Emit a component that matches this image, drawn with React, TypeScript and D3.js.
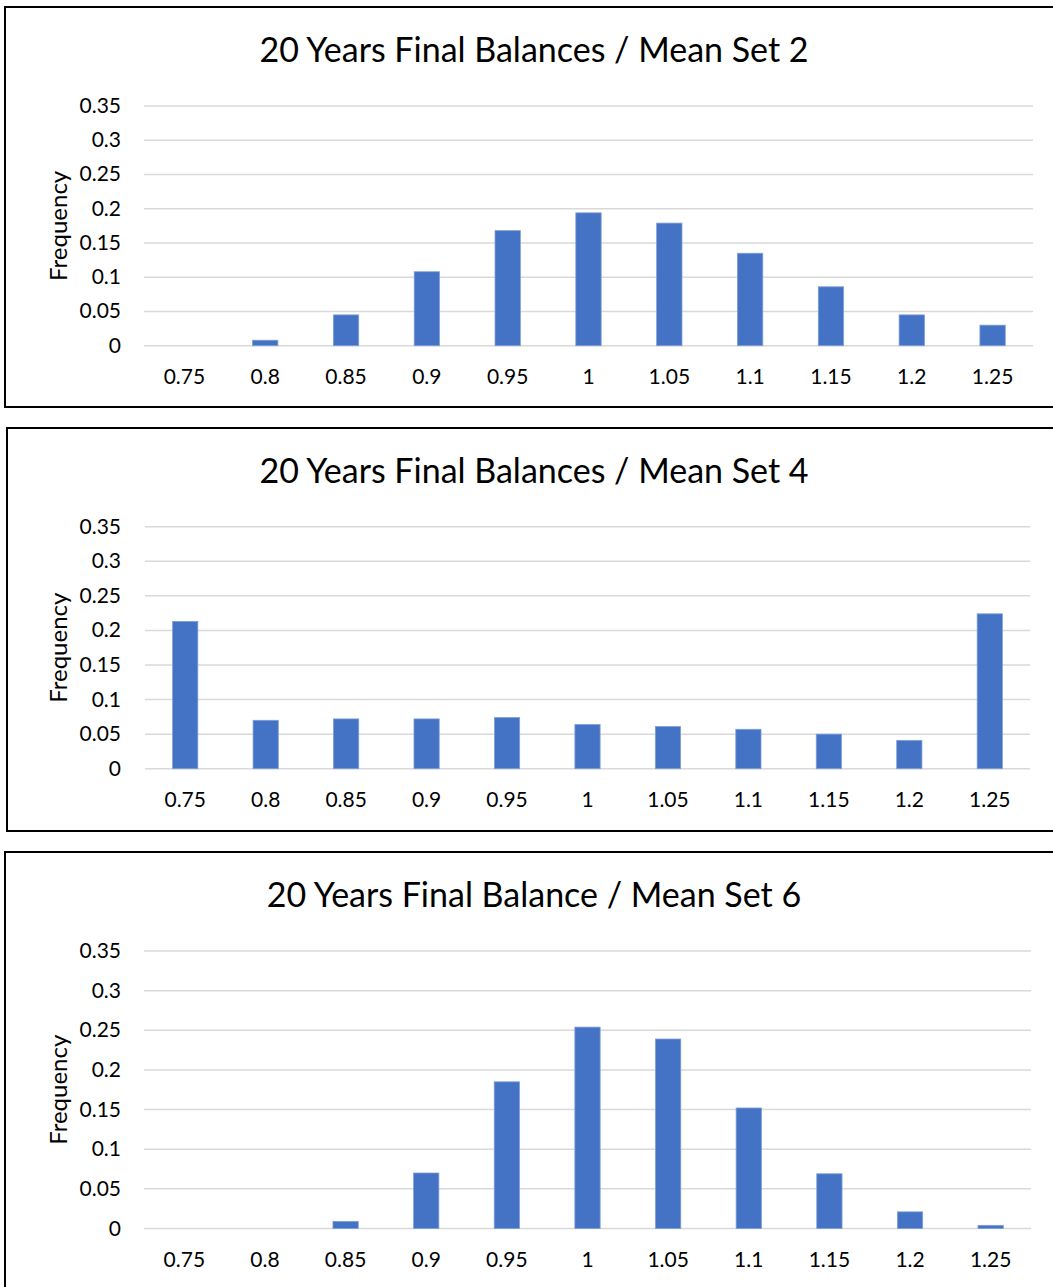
import React from "react";
import * as d3 from "d3";

const categories = ["0.75", "0.8", "0.85", "0.9", "0.95", "1", "1.05", "1.1", "1.15", "1.2", "1.25"];
const set2Values = [0, 0.008, 0.045, 0.108, 0.168, 0.194, 0.179, 0.135, 0.086, 0.045, 0.030];
const set4Values = [0.213, 0.070, 0.072, 0.072, 0.074, 0.064, 0.061, 0.057, 0.050, 0.041, 0.224];
const set6Values = [0, 0, 0.009, 0.070, 0.185, 0.254, 0.239, 0.152, 0.069, 0.021, 0.004];
const yTicks = [0, 0.05, 0.1, 0.15, 0.2, 0.25, 0.3, 0.35];
const titles = [
  "20 Years Final Balances / Mean Set 2",
  "20 Years Final Balances / Mean Set 4",
  "20 Years Final Balance / Mean Set 6",
];
const yAxisTitle = "Frequency";

const FONT = "Lato, 'Open Sans', sans-serif";

const panels = [
  { values: set2Values, title: titles[0], boxX: 5, boxY: 7, boxH: 400, left: 144, right: 1033, top: 106, bottom: 345.7 },
  { values: set4Values, title: titles[1], boxX: 7, boxY: 428, boxH: 403, left: 145, right: 1030, top: 526.7, bottom: 768.7 },
  { values: set6Values, title: titles[2], boxX: 5, boxY: 852, boxH: 460, left: 144, right: 1031, top: 951, bottom: 1228.5 },
];

function Panel({ p }: { p: typeof panels[number] }) {
  const x = d3.scaleBand<string>().domain(categories).range([p.left, p.right]).paddingInner(0).paddingOuter(0);
  const y = d3.scaleLinear().domain([0, 0.35]).range([p.bottom, p.top]);
  const bw = x.bandwidth() / 3.19;
  const fmt = (v: number) => (v === 0 ? "0" : String(+v.toFixed(2)));
  return (
    <g>
      <rect x={p.boxX} y={p.boxY} width={1100} height={p.boxH} fill="#fff" stroke="#000" strokeWidth={2} />
      <text x={534} y={p.boxY + 41} textAnchor="middle" dominantBaseline="central" fontFamily={FONT} fontSize={34} fill="#000">
        {p.title}
      </text>
      {yTicks.map((t) => (
        <g key={t}>
          <line x1={p.left} x2={p.right} y1={y(t)} y2={y(t)} stroke="#d9d9d9" strokeWidth={1.5} />
          <text x={121} y={y(t) - 1.5} textAnchor="end" dominantBaseline="central" fontFamily={FONT} fontSize={21} fill="#000">
            {fmt(t)}
          </text>
        </g>
      ))}
      {categories.map((c, i) => {
        const v = p.values[i];
        const cx = (x(c) as number) + x.bandwidth() / 2;
        return (
          <g key={c}>
            {v > 0 && (
              <rect x={cx - bw / 2} y={y(v)} width={bw} height={y(0) - y(v)} fill="#4472C4" stroke="#7f9fd8" strokeWidth={0.8} />
            )}
            <text x={cx} y={p.bottom + 30} textAnchor="middle" dominantBaseline="central" fontFamily={FONT} fontSize={21} fill="#000">
              {c}
            </text>
          </g>
        );
      })}
      <text
        transform={`translate(57, ${(p.top + p.bottom) / 2}) rotate(-90)`}
        textAnchor="middle"
        dominantBaseline="central"
        fontFamily={FONT}
        fontSize={24}
        fill="#000"
      >
        {yAxisTitle}
      </text>
    </g>
  );
}

export default function App() {
  return (
    <svg width={1053} height={1287} style={{ position: "absolute", left: 0, top: 0, background: "#fff" }}>
      <rect x={0} y={0} width={1053} height={1287} fill="#fff" />
      {panels.map((p, i) => (
        <Panel key={i} p={p} />
      ))}
    </svg>
  );
}
